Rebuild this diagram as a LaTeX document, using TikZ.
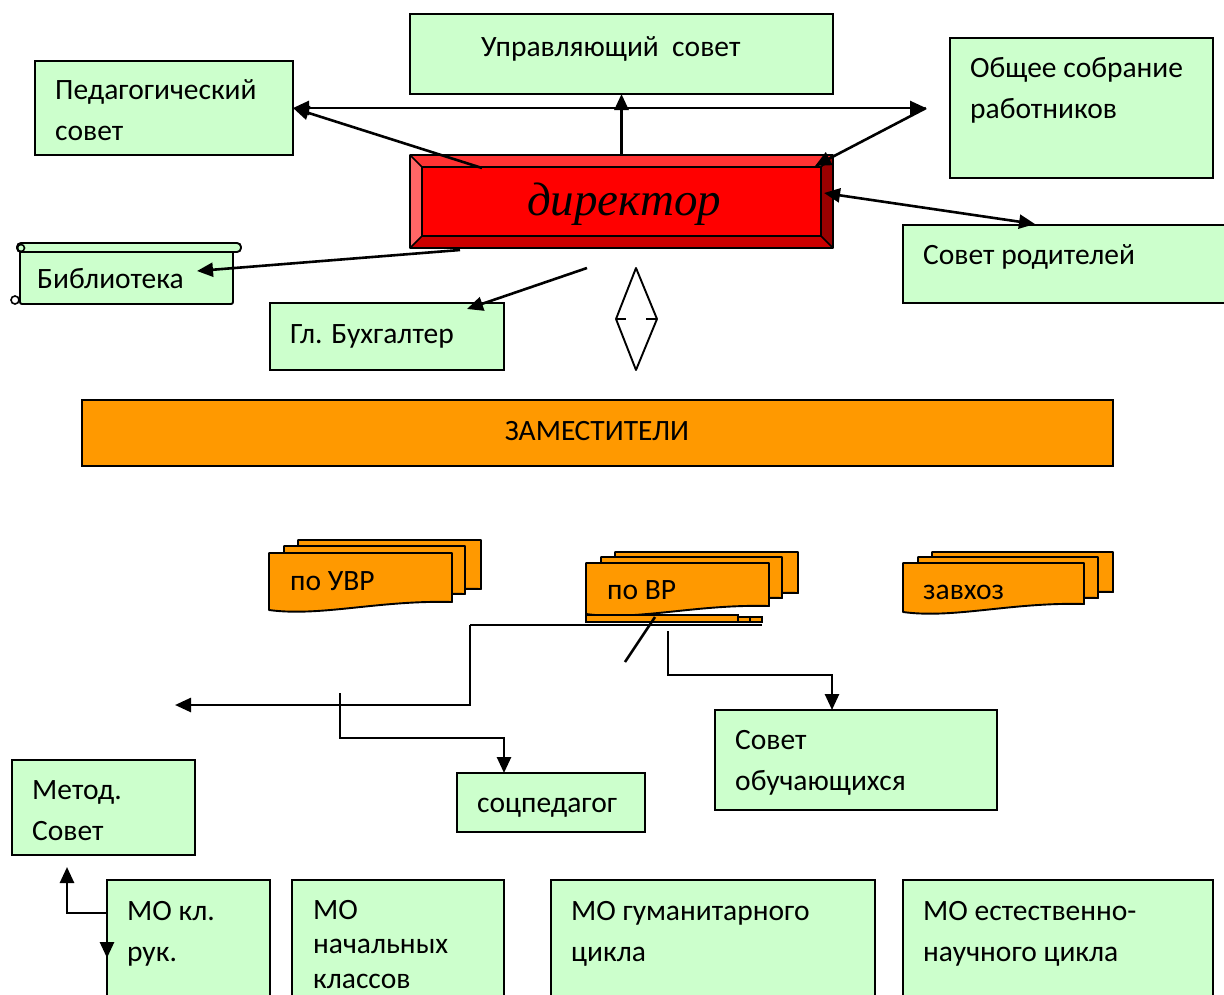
\documentclass[tikz,border=0pt]{standalone}
\usepackage{fontspec}
\setmainfont{Carlito}
\newfontfamily\dirfont{Liberation Serif}
\usetikzlibrary{arrows.meta}
\definecolor{gfill}{HTML}{CCFFCC}
\definecolor{ofill}{HTML}{FF9900}
\definecolor{bvtop}{HTML}{FF3333}
\definecolor{bvleft}{HTML}{FF6666}
\definecolor{bvbot}{HTML}{CC0000}
\definecolor{bvright}{HTML}{990000}
\definecolor{bvface}{HTML}{FF0000}
\newcommand{\ml}[1]{\begin{tabular}[t]{@{}l@{}}#1\end{tabular}}
\newcommand{\docpath}[4]{(#1,#2) -- (#3,#2) -- (#3,#4-8) .. controls ({#1+0.6*(#3-#1)},#4-10) and ({#1+0.28*(#3-#1)},#4+7) .. (#1,#4) -- cycle}
\begin{document}
\begin{tikzpicture}[x=1pt,y=-1pt,
  gbox/.style={draw, line width=1.9pt, fill=gfill, inner sep=0pt, outer sep=0pt, anchor=north west},
  obox/.style={draw, line width=1.9pt, fill=ofill, inner sep=0pt, outer sep=0pt, anchor=north west},
  txt/.style={inner sep=0pt, anchor=base west, font=\fontsize{29.5}{41.5}\selectfont},
  docsty/.style={draw, line width=1.9pt, fill=ofill, line join=round},
  conn/.style={line width=2.6pt},
  arr/.style={line width=2.6pt, -{Triangle[length=16pt,width=14pt]}},
  darr/.style={line width=2.6pt, {Triangle[length=16pt,width=14pt]}-{Triangle[length=16pt,width=14pt]}}]
\useasboundingbox (0,0) rectangle (1224,994);

% top boxes
\node[gbox, minimum width=423, minimum height=80] (upr) at (410,14) {};
\node[txt] (uprt) at (481,56) {Управляющий\ \ совет};
\node[gbox, minimum width=258, minimum height=94] (ped) at (35,61) {};
\node[txt] (pedt) at (55,99) {\ml{Педагогический\\совет}};
\node[gbox, minimum width=263, minimum height=140] (obs) at (950,38) {};
\node[txt] (obst) at (970,77) {\ml{Общее собрание\\работников}};

% director bevel box
\node[inner sep=0pt, outer sep=0pt, anchor=north west, minimum width=423, minimum height=93] (dir) at (410,155) {};
\fill[bvtop] (410,155) -- (833,155) -- (821,167) -- (422,167) -- cycle;
\fill[bvleft] (410,155) -- (422,167) -- (422,236) -- (410,248) -- cycle;
\fill[bvbot] (410,248) -- (833,248) -- (821,236) -- (422,236) -- cycle;
\fill[bvright] (833,155) -- (833,248) -- (821,236) -- (821,167) -- cycle;
\fill[bvface] (422,167) rectangle (821,236);
\draw[line width=1.7pt, line join=round] (410,155) rectangle (833,248) (422,167) rectangle (821,236)
  (410,155) -- (422,167) (833,155) -- (821,167) (410,248) -- (422,236) (833,248) -- (821,236);
\node[inner sep=0pt, anchor=base] (dirt) at (624,215) {\dirfont\itshape\fontsize{47}{52}\selectfont директор};

% library scroll
\node[gbox, rounded corners=2pt, minimum width=213, minimum height=54] (lib) at (20,250) {};
\filldraw[fill=gfill, line width=1.9pt, rounded corners=4pt] (17,243) rectangle (241,252);
\draw[line width=1.6pt] (21,248) circle (3.5) (15,300) circle (4);
\node[txt] (libt) at (37,288) {Библиотека};

\node[gbox, minimum width=234, minimum height=67] (buh) at (270,303) {};
\node[txt] (buht) at (290,343) {Гл. Бухгалтер};
\node[gbox, minimum width=325, minimum height=78] (rod) at (903,225) {};
\node[txt] (rodt) at (923,264) {Совет родителей};

% diamond
\draw[line width=1.9pt, line join=round] (636,268) -- (657,319) -- (636,370) -- (616,319) -- cycle;
\draw[line width=2.2pt] (616,319) -- (626,319) (646,319) -- (657,319);

% zamestiteli
\node[obox, minimum width=1031, minimum height=66] (zam) at (82,400) {};
\node[inner sep=0pt, anchor=base, font=\fontsize{29.5}{34}\selectfont] (zamt) at (597,440) {ЗАМЕСТИТЕЛИ};

% stacked documents
\filldraw[docsty] \docpath{298}{540}{481}{597};
\filldraw[docsty] \docpath{284}{546}{465}{602};
\filldraw[docsty] \docpath{269}{553}{452}{610};
\node[txt] (uvr) at (290,590) {по УВР};

\filldraw[docsty] \docpath{615}{552}{798}{601};
\filldraw[docsty] \docpath{601}{557}{782}{606};
\filldraw[docsty] \docpath{586}{563}{769}{614};
\node[txt] (vr) at (607,599) {по ВР};
\node[obox, line width=1.5pt, minimum width=152, minimum height=7] (strip) at (586,615) {};
\node[obox, line width=1.5pt, minimum width=12, minimum height=5] (strip2) at (738,617) {};
\node[obox, line width=1.5pt, minimum width=12, minimum height=5] (strip3) at (750,617) {};

\filldraw[docsty] \docpath{932}{552}{1113}{600};
\filldraw[docsty] \docpath{918}{557}{1098}{606};
\filldraw[docsty] \docpath{903}{563}{1084}{612};
\node[txt] (zavh) at (923,599) {завхоз};

% lower boxes
\node[gbox, minimum width=282, minimum height=100] (sob) at (715,710) {};
\node[txt] (sobt) at (735,749) {\ml{Совет\\обучающихся}};
\node[gbox, minimum width=188, minimum height=59] (soc) at (457,773) {};
\node[txt] (soct) at (477,812) {соцпедагог};
\node[gbox, minimum width=183, minimum height=95] (met) at (12,760) {};
\node[txt] (mett) at (32,799) {\ml{Метод.\\Совет}};

\node[gbox, minimum width=163, minimum height=120] (mo1) at (107,880) {};
\node[txt] (mo1t) at (127,920) {\ml{МО кл.\\рук.}};
\node[gbox, minimum width=212, minimum height=120] (mo2) at (292,880) {};
\node[txt, font=\fontsize{29.5}{34.5}\selectfont] (mo2t) at (313,919) {\ml{МО\\начальных\\классов}};
\node[gbox, minimum width=324, minimum height=120] (mo3) at (551,880) {};
\node[txt] (mo3t) at (571,920) {\ml{МО гуманитарного\\цикла}};
\node[gbox, minimum width=310, minimum height=120] (mo4) at (903,880) {};
\node[txt] (mo4t) at (923,920) {\ml{МО естественно-\\научного цикла}};

% connector coordinates
\coordinate (hR) at (926,108);
\coordinate (dPed) at (482,168);
\coordinate (dObs) at (815,166);
\coordinate (dLib) at (460,250);
\coordinate (libA) at (197,271);
\coordinate (dBuh) at (587,268);
\coordinate (buhA) at (467,309);
\coordinate (dRod) at (824,193);
\coordinate (rodA) at (1035,224);
\coordinate (vrL) at (470,625);
\coordinate (vrR) at (762,625);
\coordinate (leftA) at (175,705);
\coordinate (cross) at (340,693);
\coordinate (diag1) at (655,617);
\coordinate (diag2) at (625,662);
\coordinate (vrS) at (668,631);
\coordinate (mo1up) at (67,867);
\coordinate (mo1dn) at (107,958);

% top connectors
\draw[darr] (ped.east) -- (hR);
\draw[arr] (dir.north) -- (upr.south);
\draw[arr] (dPed) -- (ped.east);
\draw[arr] (hR) -- (dObs);
\draw[arr] (dLib) -- (libA);
\draw[arr] (dBuh) -- (buhA);
\draw[darr] (dRod) -- (rodA);

% lower connectors
\draw[conn] (vrR) -- (vrL);
\draw[arr] (vrL) |- (leftA);
\draw[conn] (diag1) -- (diag2);
\draw[arr] (cross) |- (504,738) -- (soc.north -| 504,0);
\draw[arr] (vrS) |- (832,675) -- (sob.north -| 832,0);
\draw[arr] (mo1.west |- 0,913) -| (mo1up);
\draw[arr] (mo1.west |- 0,913) -- (mo1dn);
\end{tikzpicture}
\end{document}
